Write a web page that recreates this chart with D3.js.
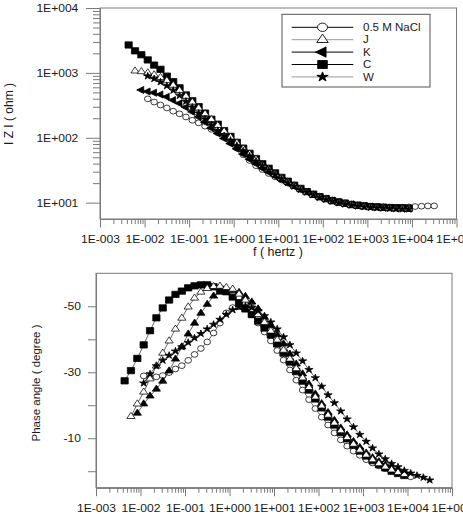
<!DOCTYPE html>
<html>
<head>
<meta charset="utf-8">
<script src="https://cdn.jsdelivr.net/npm/d3@7"></script>
<style>
  body { margin: 0; background: #fff; }
  svg { display: block; font-family: "Liberation Sans", Arial, sans-serif; }
</style>
</head>
<body>
<div id="chart"></div>
<script>
// measurement frequencies (Hz), 7 per decade
const freq = [
    0.004394, 0.006105, 0.008483, 0.01179, 0.01638, 0.02276, 0.03162,
    0.04394, 0.06105, 0.08483, 0.1179, 0.1638, 0.2276, 0.3162,
    0.4394, 0.6105, 0.8483, 1.179, 1.638, 2.276, 3.162,
    4.394, 6.105, 8.483, 11.79, 16.38, 22.76, 31.62,
    43.94, 61.05, 84.83, 117.9, 163.8, 227.6, 316.2,
    439.4, 610.5, 848.3, 1179, 1638, 2276, 3162,
    4394, 6105, 8483, 11790, 16380, 22760, 31620
];

const seriesNames = ["0.5 M NaCl", "J", "K", "C", "W"];
// index in freq of the first point of each series
const startIndex = [3, 1, 2, 0, 3];

// |Z| (ohm)
const zNaCl = [398, 355, 320, 288, 257, 234, 209, 186, 170, 151, 135, 120, 107, 87.1, 69.2, 55.0, 44.7, 37.2, 32.4, 28.2,
    25.1, 22.4, 20.0, 18.2, 16.2, 14.8, 13.5, 12.6, 11.7, 11.0, 10.5, 10.0, 9.55, 9.23, 9.02, 8.81, 8.71, 8.61, 8.51, 8.51,
    8.51, 8.61, 8.71, 8.81, 8.91, 8.91];
const zJ = [1072, 1047, 1000, 933, 851, 759, 646, 537, 437, 355, 288, 234, 191, 155, 126, 102, 83.2, 67.6, 56.2, 46.8,
    38.0, 32.4, 27.5, 24.0, 20.9, 18.2, 16.2, 14.5, 13.2, 12.2, 11.4, 10.6, 10.0, 9.55, 9.23, 8.91, 8.71, 8.51, 8.41, 8.32,
    8.22, 8.13, 8.13, 8.04];
const zK = [546, 516, 495, 465, 427, 380, 339, 295, 251, 209, 174, 141, 117, 97.7, 81.3, 67.6, 56.2, 46.8, 39.8, 33.9,
    29.5, 25.7, 22.4, 20.0, 17.8, 15.8, 14.5, 13.2, 12.3, 11.5, 10.8, 10.2, 9.77, 9.44, 9.12, 8.91, 8.71, 8.51, 8.41, 8.32,
    8.22, 8.13, 8.13];
const zC = [2692, 2188, 1905, 1585, 1318, 1135, 891, 733, 589, 457, 372, 302, 240, 193, 162, 129, 105, 85.1, 69.2, 57.5,
    47.9, 39.8, 33.9, 28.8, 24.5, 21.4, 18.6, 16.6, 14.8, 13.5, 12.3, 11.5, 10.7, 10.2, 9.77, 9.33, 9.12, 8.91, 8.71, 8.61,
    8.51, 8.41, 8.32, 8.32, 8.22];
const zW = [891, 813, 724, 631, 537, 447, 363, 295, 240, 195, 158, 129, 107, 91.2, 75.9, 63.1, 52.5, 43.7, 37.2, 31.6,
    26.9, 23.4, 20.4, 17.8, 15.8, 14.5, 13.2, 12.0, 11.2, 10.5, 9.89, 9.44, 9.12, 8.81, 8.61, 8.41, 8.32, 8.22, 8.13, 8.04,
    7.94, 7.94];

// phase angle (degree)
const phNaCl = [-28.9, -28.4, -28.6, -29.0, -29.9, -31.0, -32.0, -33.6, -35.4, -37.2, -39.2, -41.9, -44.9, -48.0, -49.6,
    -49.9, -49.2, -47.4, -44.9, -42.2, -39.5, -36.6, -33.7, -30.7, -27.6, -24.6, -21.7, -19.0, -16.4, -14.0, -11.6, -9.5,
    -7.6, -6.1, -4.8, -3.5, -2.5, -1.6, -0.8, 0.0, 0.6, 1.2, 1.7];
const phJ = [-16.6, -20.4, -24.0, -28.0, -31.9, -35.8, -39.5, -43.1, -46.4, -49.8, -52.5, -54.3, -55.4, -56.0, -56.1,
    -55.7, -55.2, -53.7, -51.9, -49.8, -47.5, -45.1, -42.5, -39.8, -36.7, -34.0, -31.1, -28.3, -25.4, -22.5, -19.8, -17.0,
    -14.6, -12.3, -10.2, -8.2, -6.4, -4.9, -3.5, -2.3, -1.3, -0.4, 0.4, 1.0];
const phK = [-17.6, -20.4, -22.8, -24.9, -27.3, -30.4, -34.0, -37.7, -41.6, -44.9, -47.9, -50.6, -53.1, -54.3, -54.9,
    -54.8, -54.2, -53.0, -51.3, -49.2, -46.7, -44.2, -41.4, -38.6, -35.5, -32.5, -29.5, -26.4, -23.4, -20.5, -17.8, -15.4,
    -13.1, -11.0, -9.0, -7.2, -5.5, -4.1, -2.9, -1.9, -1.0, -0.2, 0.4];
const phC = [-27.4, -30.5, -34.2, -38.3, -42.6, -46.5, -49.5, -51.9, -53.6, -54.6, -55.6, -56.2, -56.5, -56.5, -55.9,
    -55.2, -54.4, -52.8, -51.1, -49.2, -47.5, -45.5, -43.4, -41.3, -38.6, -35.8, -33.1, -30.2, -27.3, -24.6, -21.9, -19.2,
    -16.4, -14.0, -11.7, -9.8, -7.9, -6.1, -4.6, -3.2, -2.0, -1.0, 0.0, 0.7, 1.3];
const phW = [-26.7, -29.5, -31.9, -33.6, -35.1, -36.4, -37.7, -39.0, -40.4, -41.7, -43.1, -44.5, -46.0, -47.5, -48.9,
    -49.8, -50.1, -49.6, -48.6, -47.1, -45.2, -43.1, -40.7, -38.3, -35.8, -33.4, -30.8, -28.3, -25.7, -23.1, -20.7, -18.2,
    -15.8, -13.4, -11.1, -9.0, -7.0, -5.2, -3.7, -2.3, -1.3, -0.2, 0.6, 1.3, 1.9, 2.7];

const decades = [1e-3, 1e-2, 1e-1, 1e0, 1e1, 1e2, 1e3, 1e4, 1e5];
const zDecades = [1e1, 1e2, 1e3, 1e4];
const phTicks = [-50, -40, -30, -20, -10, 0];
const phLabels = [-50, -30, -10];

const zData = [zNaCl, zJ, zK, zC, zW];
const phData = [phNaCl, phJ, phK, phC, phW];

const width = 463, height = 518;
const axisColor = "#7a7a7a", textColor = "#1a1a1a";
const stretch = "scale(1.15,1)";

const svg = d3.select("#chart").append("svg")
    .attr("width", width)
    .attr("height", height);

function expLabel(d) {
    let e = Math.round(Math.log10(d));
    return "1E" + (e < 0 ? "-" : "+") + String(Math.abs(e)).padStart(3, "0");
}
function isDecade(t) {
    let l = Math.log10(t);
    return Math.abs(l - Math.round(l)) < 1e-6;
}

// marker styles: symbol, size, fill, rotation (top / bottom panel)
const markers = [
    {type: d3.symbolCircle, size: 26, fill: "#fff", rotTop: 0, rotBot: 0},
    {type: d3.symbolTriangle, size: 22, fill: "#fff", rotTop: 0, rotBot: 0},
    {type: d3.symbolTriangle, size: 22, fill: "#000", rotTop: -90, rotBot: 0},
    {type: d3.symbolSquare, size: 40, fill: "#000", rotTop: 0, rotBot: 0},
    {type: d3.symbolStar, size: 16, fill: "#000", rotTop: 0, rotBot: 0}
];
const drawOrder = [0, 3, 2, 1, 4];

function styleAxis(g) {
    g.selectAll("path, line").attr("stroke", axisColor);
    g.selectAll("text").attr("fill", textColor);
}

function drawPanel(p) {
    let g = svg.append("g");
    let x = d3.scaleLog().domain([1e-3, 1e5]).range([p.left, p.right]);
    let y = p.y;

    // frame
    g.append("rect")
        .attr("x", p.left).attr("y", p.top)
        .attr("width", p.right - p.left).attr("height", p.bottom - p.top)
        .attr("fill", "none").attr("stroke", axisColor);

    // x axis: minor and major ticks
    g.append("g")
        .attr("transform", "translate(0," + p.bottom + ")")
        .call(d3.axisBottom(x).tickValues(x.ticks().filter(t => !isDecade(t)))
            .tickSize(5).tickSizeOuter(0).tickFormat(""))
        .call(styleAxis);
    let xa = g.append("g")
        .attr("transform", "translate(0," + p.bottom + ")")
        .call(d3.axisBottom(x).tickValues(decades).tickSize(8.5).tickSizeOuter(0).tickFormat(expLabel))
        .call(styleAxis);
    xa.selectAll("text")
        .attr("y", 24.3).attr("dy", 0)
        .attr("font-size", 10.5)
        .attr("font-family", "Liberation Sans, Arial, sans-serif")
        .attr("transform", stretch);

    // y axis
    p.yAxis(g, y);

    // series
    let rot = p.rotKey;
    drawOrder.forEach(s => {
        let pts = p.data[s].map((v, k) => ({f: freq[startIndex[s] + k], v: v}));
        g.append("path")
            .datum(pts)
            .attr("fill", "none")
            .attr("stroke", "#000")
            .attr("stroke-width", 0.6)
            .attr("d", d3.line().x(d => x(d.f)).y(d => y(d.v)));
        let m = markers[s];
        g.append("g").selectAll("path")
            .data(pts)
            .join("path")
            .attr("d", d3.symbol(m.type, m.size))
            .attr("transform", d => "translate(" + x(d.f) + "," + y(d.v) + ") scale(1.15,1) rotate(" + m[rot] + ")")
            .attr("fill", m.fill)
            .attr("stroke", "#000")
            .attr("stroke-width", 0.7);
    });
}

// ---- top: |Z| vs f ----
const yZ = d3.scaleLog().domain([5.6, 1e4]).range([219, 8]);
drawPanel({
    left: 100, right: 456.5, top: 8, bottom: 219, y: yZ, data: zData, rotKey: "rotTop",
    yAxis: function (g, y) {
        g.append("g")
            .attr("transform", "translate(100,0)")
            .call(d3.axisLeft(y).tickValues(y.ticks().filter(t => t >= 10 && !isDecade(t)))
                .tickSize(7).tickSizeOuter(0).tickFormat(""))
            .call(styleAxis);
        let ya = g.append("g")
            .attr("transform", "translate(100,0)")
            .call(d3.axisLeft(y).tickValues(zDecades).tickSize(14).tickSizeOuter(0).tickFormat(expLabel))
            .call(styleAxis);
        ya.selectAll("text")
            .attr("x", 0)
            .attr("font-size", 10.5)
            .attr("font-family", "Liberation Sans, Arial, sans-serif")
            .attr("transform", "translate(-21.7,0) " + stretch);
    }
});

svg.append("text")
    .attr("transform", "translate(9,114) rotate(-90)")
    .attr("text-anchor", "middle")
    .attr("dominant-baseline", "central")
    .attr("font-size", 12)
    .attr("fill", textColor)
    .text("I Z I ( ohm )");

svg.append("text")
    .attr("x", 278).attr("y", 256)
    .attr("text-anchor", "middle")
    .attr("font-size", 12.5)
    .attr("fill", textColor)
    .text("f ( hertz )");

// ---- bottom: phase vs f ----
const yPh = d3.scaleLinear().domain([-60, 5]).range([273.3, 487.7]);
drawPanel({
    left: 96, right: 452, top: 273.3, bottom: 487.7, y: yPh, data: phData, rotKey: "rotBot",
    yAxis: function (g, y) {
        let ya = g.append("g")
            .attr("transform", "translate(96,0)")
            .call(d3.axisLeft(y).tickValues(phTicks).tickSize(8).tickSizeOuter(0)
                .tickFormat(d => phLabels.includes(d) ? d : ""))
            .call(styleAxis);
        ya.selectAll("text")
            .attr("x", 0)
            .attr("font-size", 10.5)
            .attr("font-family", "Liberation Sans, Arial, sans-serif")
            .attr("transform", "translate(-15,0) " + stretch);
    }
});

svg.append("text")
    .attr("transform", "translate(35.5,383) rotate(-90)")
    .attr("text-anchor", "middle")
    .attr("dominant-baseline", "central")
    .attr("font-size", 11.5)
    .attr("fill", textColor)
    .text("Phase angle ( degree )");

// ---- legend ----
const legend = svg.append("g");
legend.append("rect")
    .attr("x", 282).attr("y", 14.3).attr("width", 148).attr("height", 72.7)
    .attr("fill", "#fff").attr("stroke", "#555");
const legendLine = ["#000", "#999", "#000", "#000", "#999"];
const legendSize = [55, 40, 45, 64, 28];
seriesNames.forEach((name, s) => {
    let ly = 27.3 + s * 12.4;
    legend.append("line")
        .attr("x1", 291.7).attr("x2", 353.3).attr("y1", ly).attr("y2", ly)
        .attr("stroke", legendLine[s]).attr("stroke-width", 1);
    let m = markers[s];
    legend.append("path")
        .attr("d", d3.symbol(m.type, legendSize[s]))
        .attr("transform", "translate(322.5," + ly + ") scale(1.2,1) rotate(" + m.rotTop + ")")
        .attr("fill", m.fill).attr("stroke", "#000").attr("stroke-width", 0.8);
    legend.append("text")
        .attr("transform", "translate(363," + (ly + 3.6) + ") scale(1.1,1)")
        .attr("font-size", 10.5)
        .attr("fill", textColor)
        .text(name);
});
</script>
</body>
</html>
